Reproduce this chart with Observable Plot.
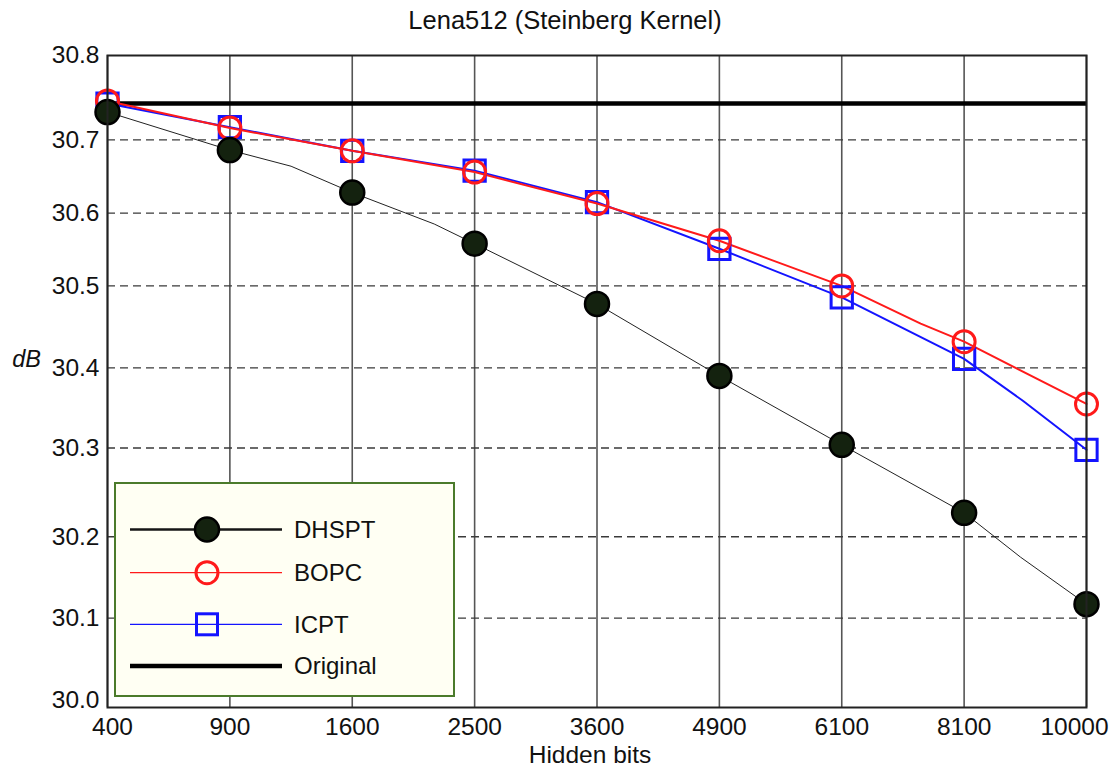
<!DOCTYPE html>
<html>
<head>
<meta charset="utf-8">
<script src="https://cdn.jsdelivr.net/npm/d3@7"></script>
<script src="https://cdn.jsdelivr.net/npm/@observablehq/plot@0.6"></script>
<style>
  html, body { margin: 0; padding: 0; background: #fff; overflow: hidden; }
  body { font-family: "Liberation Sans", Arial, sans-serif; }
  #wrap { position: relative; width: 1116px; height: 774px; }
  #legend {
    position: absolute; left: 114px; top: 482px; width: 341px; height: 215px;
    box-sizing: border-box; border: 2px solid #4b7b2b; background: #fffff3;
  }
  #legend svg { display: block; }
</style>
</head>
<body>
<div id="wrap"></div>
<script>
// ---------- data ----------
const title = "Lena512 (Steinberg Kernel)";
const xLabel = "Hidden bits";
const yLabel = "dB";
const xLabels = ["400", "900", "1600", "2500", "3600", "4900", "6100", "8100", "10000"];
const yTicks = [30.0, 30.1, 30.2, 30.3, 30.4, 30.5, 30.6, 30.7, 30.8];
const seriesNames = ["DHSPT", "BOPC", "ICPT", "Original"];

const dhspt = [30.733, 30.686, 30.628, 30.558, 30.478, 30.390, 30.304, 30.227, 30.117];
const bopc  = [30.746, 30.714, 30.685, 30.656, 30.613, 30.562, 30.500, 30.432, 30.355];
const icpt  = [30.743, 30.715, 30.685, 30.658, 30.615, 30.551, 30.486, 30.411, 30.298];
const original = 30.743;

// extra (unmarked) line vertices: [category position, value]
const dhsptBends = [[1.5, 30.664], [2.67, 30.585], [7.46, 30.175]];
const bopcBends  = [[6.645, 30.454]];
const icptBends  = [[7.48, 30.359]];

// The source's value axis is unevenly spaced: piecewise axis warp
// (value -> share of the frame height, read from the source gridlines)
const yDomain = [29.99, ...yTicks];
const yShare = [0, 0.0118, 0.1372, 0.2619, 0.3980, 0.5208, 0.6466, 0.7583, 0.8706, 1];
const warp = d3.scaleLinear().domain(yDomain).range(yShare);

// ---------- helpers ----------
const markerPts = vals => vals.map((v, i) => ({x: i, y: v}));
const linePts = (vals, bends) =>
  [...markerPts(vals), ...bends.map(([x, y]) => ({x, y}))].sort((a, b) => a.x - b.x);
const Y = d => warp(d.y);

const colors = {DHSPT: "#161616", BOPC: "#ff1a1a", ICPT: "#1414ff", Original: "#000"};
const idx = d3.range(xLabels.length);
const fmtX = i => xLabels[i];
const fmtY = t => warp.invert(t).toFixed(1);

const chart = Plot.plot({
  width: 1116, height: 774,
  marginLeft: 107, marginRight: 30, marginTop: 55, marginBottom: 67,
  style: {fontFamily: "'Liberation Sans', Arial, sans-serif", background: "white", overflow: "visible", color: "#111"},
  x: {domain: [0, xLabels.length - 1]},
  y: {domain: [0, 1]},
  marks: [
    Plot.ruleX(idx, {stroke: "#555", strokeWidth: 1.6}),
    Plot.ruleY(yTicks.slice(1, 8), {y: d => warp(d), stroke: "#3a3a3a", strokeWidth: 1.3, strokeDasharray: "8,5"}),
    Plot.ruleY([original], {y: d => warp(d), stroke: colors.Original, strokeWidth: 4.5}),
    Plot.line(linePts(icpt, icptBends), {x: "x", y: Y, stroke: colors.ICPT, strokeWidth: 2}),
    Plot.line(linePts(bopc, bopcBends), {x: "x", y: Y, stroke: colors.BOPC, strokeWidth: 2}),
    Plot.line(linePts(dhspt, dhsptBends), {x: "x", y: Y, stroke: "#222", strokeWidth: 1}),
    Plot.dot(markerPts(icpt), {x: "x", y: Y, symbol: "square", r: 12, stroke: colors.ICPT, strokeWidth: 3, fill: "none"}),
    Plot.dot(markerPts(bopc), {x: "x", y: Y, r: 11, stroke: colors.BOPC, strokeWidth: 3, fill: "none"}),
    Plot.dot(markerPts(dhspt), {x: "x", y: Y, r: 12, fill: "#14220f", stroke: "#000", strokeWidth: 2.5}),
    Plot.frame({stroke: "#222", strokeWidth: 2}),
    Plot.axisX({ticks: idx.slice(0, 1), tickFormat: fmtX, tickSize: 0, tickPadding: 10, fontSize: 24.5, dx: 5, label: null}),
    Plot.axisX({ticks: idx.slice(1, -1), tickFormat: fmtX, tickSize: 0, tickPadding: 10, fontSize: 24.5, label: null}),
    Plot.axisX({ticks: idx.slice(-1), tickFormat: fmtX, tickSize: 0, tickPadding: 10, fontSize: 24.5, dx: -12, label: null}),
    Plot.axisY({ticks: yTicks.map(v => warp(v)), tickFormat: fmtY, tickSize: 0, tickPadding: 8, fontSize: 24.5, label: null}),
    Plot.text([title], {text: d => d, frameAnchor: "top", textAnchor: "middle", lineAnchor: "middle", dx: -32, dy: -35, fontSize: 25.5}),
    Plot.text([yLabel], {text: d => d, frameAnchor: "left", textAnchor: "middle", lineAnchor: "middle", dx: -81, dy: -22, fontSize: 23.5, fontStyle: "italic"}),
    Plot.text([xLabel], {text: d => d, frameAnchor: "bottom", textAnchor: "middle", lineAnchor: "middle", dx: -7, dy: 48, fontSize: 24.5})
  ]
});

const wrap = document.getElementById("wrap");
wrap.appendChild(chart);

// ---------- legend (overlay box inside the plot) ----------
const legend = document.createElement("div");
legend.id = "legend";
wrap.appendChild(legend);
const rowY = [45.5, 88.7, 140.3, 182];
const lsvg = d3.select(legend).append("svg").attr("width", 337).attr("height", 211);
seriesNames.forEach((name, i) => {
  const g = lsvg.append("g").attr("transform", `translate(0,${rowY[i]})`);
  const lw = name === "Original" ? 4.5 : name === "DHSPT" ? 2.5 : 1.3;
  g.append("line").attr("x1", 14).attr("x2", 166).attr("y1", 0).attr("y2", 0)
    .attr("stroke", colors[name]).attr("stroke-width", lw);
  if (name === "DHSPT") {
    g.append("circle").attr("cx", 91).attr("cy", 0).attr("r", 12)
      .attr("fill", "#14220f").attr("stroke", "#000").attr("stroke-width", 2.5);
  } else if (name === "BOPC") {
    g.append("circle").attr("cx", 91).attr("cy", 0).attr("r", 11)
      .attr("fill", "none").attr("stroke", colors.BOPC).attr("stroke-width", 3);
  } else if (name === "ICPT") {
    g.append("rect").attr("x", 91 - 10.5).attr("y", -10.5).attr("width", 21).attr("height", 21)
      .attr("fill", "none").attr("stroke", colors.ICPT).attr("stroke-width", 3);
  }
  g.append("text").attr("x", 178).attr("y", 0).attr("dy", "0.35em")
    .attr("font-size", 24).attr("fill", "#111")
    .attr("font-family", "'Liberation Sans', Arial, sans-serif").text(name);
});
</script>
</body>
</html>
